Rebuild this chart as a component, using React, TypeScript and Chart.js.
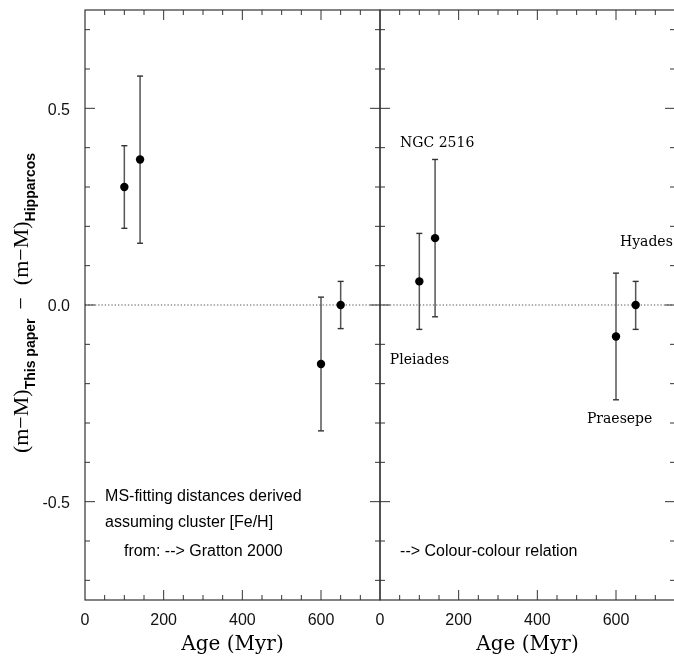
import React, { useEffect, useRef } from 'react';
import { Chart, registerables } from 'chart.js';
Chart.register(...registerables);

// ---- data ----
const ages = [100, 140, 600, 650];
const clusterNames = ['Pleiades', 'NGC 2516', 'Praesepe', 'Hyades'];
const gratton = [0.30, 0.37, -0.15, 0.0];
const grattonLow = [0.195, 0.157, -0.32, -0.06];
const grattonHigh = [0.405, 0.582, 0.02, 0.06];
const colour = [0.06, 0.17, -0.08, 0.0];
const colourLow = [-0.062, -0.03, -0.241, -0.062];
const colourHigh = [0.182, 0.37, 0.081, 0.06];
const xTickValues = [0, 200, 400, 600];
const xTickLabels = ['0', '200', '400', '600'];
const yTickValues = [-0.5, 0, 0.5];
const yTickLabels = ['-0.5', '0.0', '0.5'];

// annotation anchors (data coordinates)
const clusterLabelX = [25, 51, 526, 610];
const clusterLabelY = [-0.14, 0.41, -0.29, 0.16];
const leftNotes = ['MS-fitting distances derived', 'assuming cluster [Fe/H]', 'from: --> Gratton 2000'];
const leftNoteX = [51, 51, 99];
const leftNoteY = [-0.487, -0.553, -0.627];
const rightNotes = ['--> Colour-colour relation'];
const rightNoteX = [51];
const rightNoteY = [-0.627];

const X_MIN = 0, X_MAX = 750, Y_MIN = -0.75, Y_MAX = 0.75;
const FRAME = '#333';
const BAR = '#555';

type Note = { text: string; x: number; y: number; font: string };

function makeOverlay(notes: Note[], yTitle: boolean) {
  return {
    id: 'overlay',
    afterDraw(chart: any) {
      const { ctx, chartArea: a, scales } = chart;
      const xs = scales.x, ys = scales.y;
      ctx.save();
      ctx.strokeStyle = FRAME;
      ctx.lineWidth = 1.2;
      ctx.strokeRect(a.left, a.top, a.right - a.left, a.bottom - a.top);
      ctx.lineWidth = 1;
      ctx.beginPath();
      for (let v = 50; v < X_MAX; v += 50) {
        const px = xs.getPixelForValue(v);
        const len = v % 200 === 0 ? 10 : 5;
        ctx.moveTo(px, a.bottom); ctx.lineTo(px, a.bottom - len);
        ctx.moveTo(px, a.top); ctx.lineTo(px, a.top + len);
      }
      for (let k = -7; k <= 7; k++) {
        const py = ys.getPixelForValue(k / 10);
        const len = k % 5 === 0 ? 10 : 5;
        ctx.moveTo(a.left, py); ctx.lineTo(a.left + len, py);
        ctx.moveTo(a.right, py); ctx.lineTo(a.right - len, py);
      }
      ctx.stroke();

      ctx.fillStyle = '#000';
      ctx.textBaseline = 'middle';
      ctx.textAlign = 'left';
      for (const n of notes) {
        ctx.font = n.font;
        ctx.fillText(n.text, xs.getPixelForValue(n.x), ys.getPixelForValue(n.y));
      }

      if (yTitle) {
        const main = '22px "Liberation Serif"';
        const sub = 'bold 14px "Liberation Sans"';
        const segs: { t: string; f: string; dy: number; gap?: number }[] = [
          { t: '(m\u2212M)', f: main, dy: 0 },
          { t: 'This paper', f: sub, dy: 7 },
          { t: '', f: main, dy: 0, gap: 9 },
          { t: '\u2212', f: main, dy: 0 },
          { t: '', f: main, dy: 0, gap: 12 },
          { t: '(m\u2212M)', f: main, dy: 0 },
          { t: 'Hipparcos', f: sub, dy: 7 },
        ];
        let total = 0;
        const widths = segs.map((s) => {
          ctx.font = s.f;
          const w = s.gap ?? ctx.measureText(s.t).width;
          total += w;
          return w;
        });
        ctx.translate(28, (a.top + a.bottom) / 2 - 2);
        ctx.rotate(-Math.PI / 2);
        ctx.textBaseline = 'alphabetic';
        let cx = -total / 2;
        segs.forEach((s, i) => {
          if (s.t) {
            ctx.font = s.f;
            ctx.fillText(s.t, cx, s.dy);
          }
          cx += widths[i];
        });
      }
      ctx.restore();
    },
  };
}

function buildConfig(values: number[], lows: number[], highs: number[], notes: Note[], left: boolean) {
  const points = ages.map((x, i) => ({ x, y: values[i] }));
  const bars: { x: number; y: number }[] = [];
  ages.forEach((x, i) => {
    bars.push({ x, y: lows[i] }, { x, y: highs[i] }, { x, y: NaN });
  });
  return {
    type: 'scatter' as const,
    data: {
      datasets: [
        {
          label: 'clusters',
          data: points,
          pointRadius: 4.2,
          pointBackgroundColor: '#000',
          pointBorderWidth: 0,
          showLine: false,
        },
        {
          label: 'errors',
          data: bars,
          showLine: true,
          spanGaps: false,
          borderColor: BAR,
          borderWidth: 1.5,
          pointStyle: 'line',
          pointRadius: 3,
          pointBorderColor: '#333',
          pointBorderWidth: 1.4,
        },
        {
          label: 'zero',
          data: [{ x: X_MIN, y: 0 }, { x: X_MAX, y: 0 }],
          showLine: true,
          borderColor: '#555',
          borderWidth: 1.2,
          borderDash: [1.3, 2],
          pointRadius: 0,
        },
      ],
    },
    options: {
      responsive: false,
      maintainAspectRatio: false,
      animation: false,
      events: [],
      layout: { autoPadding: false, padding: { top: 10, left: left ? 0 : 20, right: left ? 1 : 0, bottom: 0 } },
      plugins: { legend: { display: false }, tooltip: { enabled: false }, title: { display: false } },
      scales: {
        x: {
          type: 'linear',
          min: X_MIN,
          max: X_MAX,
          afterBuildTicks: (s: any) => { s.ticks = xTickValues.map((v) => ({ value: v })); },
          afterFit: (s: any) => { s.height = 57; s.paddingLeft = 0; s.paddingRight = 0; },
          ticks: {
            autoSkip: false,
            maxRotation: 0,
            padding: 11,
            color: '#111',
            font: { family: '"Liberation Sans"', size: 16 },
            callback: (_v: any, i: number) => xTickLabels[i],
          },
          grid: { display: false, drawTicks: false },
          border: { display: false },
          title: {
            display: true,
            text: 'Age (Myr)',
            color: '#000',
            font: { family: '"DejaVu Serif"', size: 20 },
            padding: { top: 0, bottom: 0 },
          },
        },
        y: {
          type: 'linear',
          display: left,
          min: Y_MIN,
          max: Y_MAX,
          afterBuildTicks: (s: any) => { s.ticks = yTickValues.map((v) => ({ value: v })); },
          afterFit: (s: any) => {
            if (left) s.width = 85;
            s.paddingTop = 0; s.paddingBottom = 0;
          },
          ticks: {
            padding: 15,
            labelOffset: 2,
            color: '#111',
            font: { family: '"Liberation Sans"', size: 16 },
            callback: (_v: any, i: number) => yTickLabels[i],
          },
          grid: { display: false, drawTicks: false },
          border: { display: false },
          title: { display: false },
        },
      },
    },
    plugins: [makeOverlay(notes, left)],
  };
}

export default function App() {
  const leftRef = useRef<HTMLCanvasElement>(null);
  const rightRef = useRef<HTMLCanvasElement>(null);

  useEffect(() => {
    const leftAnn: Note[] = leftNotes.map((t, i) => ({
      text: t, x: leftNoteX[i], y: leftNoteY[i], font: '16px "Liberation Sans"',
    }));
    const rightAnn: Note[] = [
      ...clusterNames.map((t, i) => ({
        text: t, x: clusterLabelX[i], y: clusterLabelY[i], font: '14px "DejaVu Serif"',
      })),
      ...rightNotes.map((t, i) => ({
        text: t, x: rightNoteX[i], y: rightNoteY[i], font: '16px "Liberation Sans"',
      })),
    ];
    const c1 = new Chart(leftRef.current!, buildConfig(gratton, grattonLow, grattonHigh, leftAnn, true) as any);
    const c2 = new Chart(rightRef.current!, buildConfig(colour, colourLow, colourHigh, rightAnn, false) as any);
    return () => { c1.destroy(); c2.destroy(); };
  }, []);

  return (
    <div style={{ position: 'fixed', left: 0, top: 0, width: 674, height: 657, overflow: 'hidden', background: '#fff' }}>
      <canvas ref={leftRef} width={381} height={657} style={{ position: 'absolute', left: 0, top: 0, width: 381, height: 657 }} />
      <canvas ref={rightRef} width={315} height={657} style={{ position: 'absolute', left: 360, top: 0, width: 315, height: 657 }} />
    </div>
  );
}
